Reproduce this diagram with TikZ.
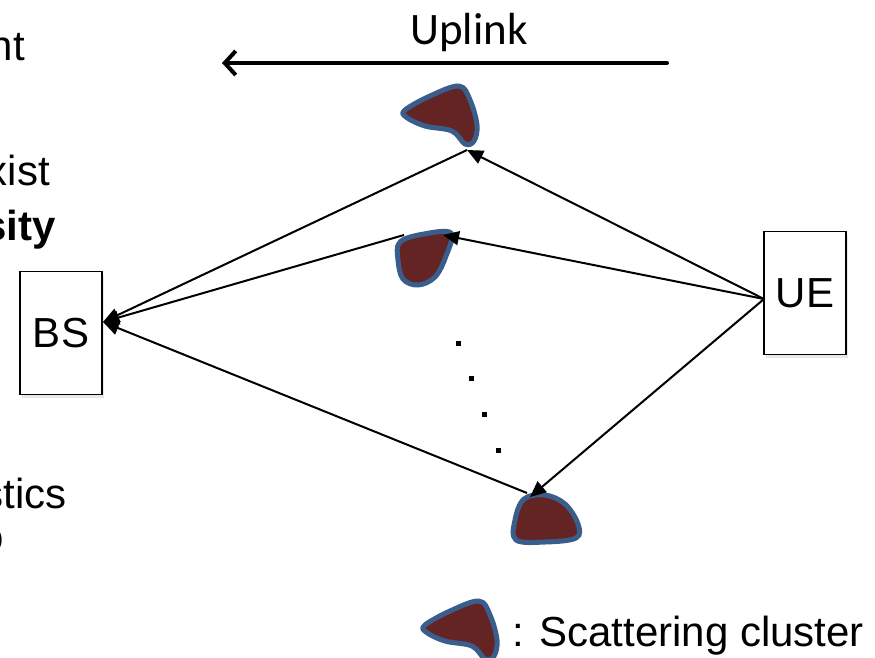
\documentclass[tikz,border=0pt]{standalone}
\usepackage{fontspec}
\setmainfont{Liberation Sans}
\newfontfamily\upfont{Carlito}
\usetikzlibrary{arrows.meta,shadows}

\definecolor{clusterfill}{HTML}{652424}
\definecolor{clusterline}{HTML}{3A5E8C}

\tikzset{
  big/.style={font=\fontsize{42}{50}\selectfont},
  station/.style={draw, line width=1.2pt, fill=white, minimum width=82pt,
    minimum height=123pt, inner sep=0pt, big,
    drop shadow={shadow xshift=2pt, shadow yshift=-3pt, opacity=0.18}},
  cluster/.style={fill=clusterfill, draw=clusterline, line width=5pt, line join=round},
  ray/.style={line width=2pt, -{Triangle[length=16pt,width=14pt]}},
  dotmark/.style={fill=black, inner sep=0pt, minimum size=5pt, rectangle},
  sidetext/.style={big, anchor=base east, inner sep=0pt},
}

\begin{document}
\begin{tikzpicture}[x=1pt, y=-1pt]
\useasboundingbox (0,0) rectangle (875,657);

% cut-off slide text on the left
\node[sidetext] (t1) at (25,60) {nt};
\node[sidetext] (t2) at (50,185) {xist};
\node[sidetext, font=\fontsize{42}{50}\selectfont\bfseries] (t3) at (56,240) {sity};
\node[sidetext] (t4) at (67,508) {stics};
\node[sidetext] (t5) at (4,551) {o};

% base station and user equipment
\node[station] (BS) at (61,333) {BS};
\node[station] (UE) at (805,293) {UE};
\coordinate (bsin) at (103,322);
\coordinate (ueout) at (764,299);

% direction label
\node[font=\upfont\fontsize{45}{52}\selectfont, anchor=base, inner sep=0pt] (up) at (469,44) {Uplink};
\coordinate (upstart) at (667,63);
\coordinate (upend) at (222,63);
\draw[line width=4pt, line cap=round, -{Straight Barb[length=11pt,width=24pt]}] (upstart) -- (upend);

% scattering clusters
\draw[cluster] plot[smooth cycle, tension=0.6] coordinates
  {(405,110) (430,96) (459,86) (470,100) (477,125) (474,141) (465,144) (452,131) (425,126) (406,117)};
\draw[cluster] plot[smooth cycle, tension=0.6] coordinates
  {(400,242) (424,234) (451,233) (446,256) (435,277) (418,285) (403,279) (398,260)};
\draw[cluster] plot[smooth cycle, tension=0.6] coordinates
  {(524,499) (545,495) (565,504) (578,524) (576,538) (545,542) (516,540) (515,520)};

% legend cluster
\draw[cluster] plot[smooth cycle, tension=0.6] coordinates
  {(425,625) (450,611) (479,601) (490,615) (497,640) (494,656) (485,659) (472,646) (445,641) (426,632)};
\node[big, anchor=base west, inner sep=0pt] (leg) at (512,646) {: Scattering cluster};

% cluster contact points
\coordinate (c1) at (467,150);
\coordinate (c2) at (443,235);
\coordinate (c2b) at (404,235);
\coordinate (c3) at (530,497);
\coordinate (c3b) at (527,493);

% propagation paths UE -> clusters -> BS
\draw[ray] (ueout) -- (c1);
\draw[ray] (ueout) -- (c2);
\draw[ray] (ueout) -- (c3);
\draw[ray] (c1) -- (bsin);
\draw[ray] (c2b) -- (bsin);
\draw[ray] (c3b) -- (bsin);

% further clusters omitted
\node[dotmark] (d1) at (458,343) {};
\node[dotmark] (d2) at (471,378) {};
\node[dotmark] (d3) at (484,414) {};
\node[dotmark] (d4) at (498,450) {};
\end{tikzpicture}
\end{document}
